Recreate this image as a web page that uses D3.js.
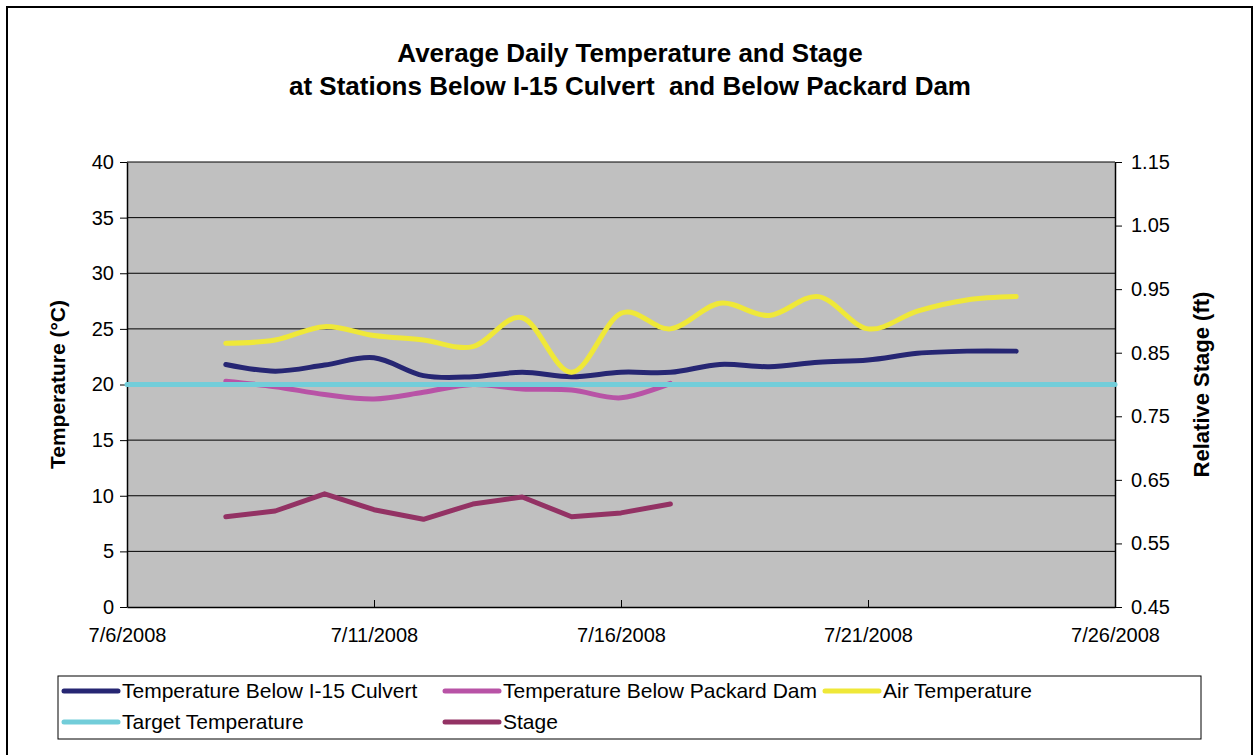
<!DOCTYPE html>
<html>
<head>
<meta charset="utf-8">
<script src="https://cdn.jsdelivr.net/npm/d3@7"></script>
<style>
  body { margin: 0; background: #fff; }
  svg text { font-family: "Liberation Sans", Arial, sans-serif; fill: #000; }
</style>
</head>
<body>
<svg id="chart" width="1254" height="755"></svg>
<script>
// ---- data ----
var dates = ['7/8/2008','7/9/2008','7/10/2008','7/11/2008','7/12/2008','7/13/2008','7/14/2008',
  '7/15/2008','7/16/2008','7/17/2008','7/18/2008','7/19/2008','7/20/2008','7/21/2008',
  '7/22/2008','7/23/2008','7/24/2008'];
var culvertTemp = [21.8, 21.2, 21.75, 22.4, 20.8, 20.7, 21.1, 20.7, 21.1, 21.1, 21.8, 21.6, 22.0, 22.2, 22.8, 23.0, 23.0];
var packardTemp = [20.3, 19.8, 19.1, 18.7, 19.3, 20.0, 19.6, 19.5, 18.8, 20.1];
var airTemp = [23.7, 24.0, 25.2, 24.4, 24.0, 23.4, 26.0, 21.1, 26.4, 25.0, 27.3, 26.2, 27.9, 25.0, 26.6, 27.6, 27.9];
var stage = [0.592, 0.601, 0.628, 0.603, 0.588, 0.612, 0.623, 0.592, 0.598, 0.612];
var targetDates = ['7/6/2008', '7/26/2008'];
var targetTemp = [20, 20];
var xTicks = ['7/6/2008','7/11/2008','7/16/2008','7/21/2008','7/26/2008'];
var leftTicks = [0, 5, 10, 15, 20, 25, 30, 35, 40];
var rightTicks = [0.45, 0.55, 0.65, 0.75, 0.85, 0.95, 1.05, 1.15];

var parse = d3.timeParse('%m/%d/%Y');
var fmt = function(d){ return (d.getMonth()+1) + '/' + d.getDate() + '/' + d.getFullYear(); };

var svg = d3.select('#chart');
var plot = {left: 127, right: 1115, top: 162, bottom: 607};

// outer border
svg.append('rect').attr('x', 7).attr('y', 7).attr('width', 1245).attr('height', 760)
  .attr('fill', '#fff').attr('stroke', '#000').attr('stroke-width', 2);

var x = d3.scaleTime().domain([parse('7/6/2008'), parse('7/26/2008')]).range([plot.left, plot.right]);
var y = d3.scaleLinear().domain([0, 40]).range([plot.bottom, plot.top]);
var y2 = d3.scaleLinear().domain([0.45, 1.15]).range([plot.bottom, plot.top]);

// plot background
svg.append('rect').attr('x', plot.left).attr('y', plot.top)
  .attr('width', plot.right - plot.left).attr('height', plot.bottom - plot.top)
  .attr('fill', '#c0c0c0');

// gridlines
svg.append('g').selectAll('line').data(leftTicks.slice(1)).enter().append('line')
  .attr('x1', plot.left).attr('x2', plot.right)
  .attr('y1', function(d){ return y(d); }).attr('y2', function(d){ return y(d); })
  .attr('stroke', '#000').attr('stroke-width', 1);

// axes
var gx = svg.append('g').attr('transform', 'translate(0,' + plot.bottom + ')')
  .call(d3.axisBottom(x).tickValues(xTicks.map(parse)).tickFormat(fmt).tickSize(7).tickSizeOuter(0).tickPadding(14));
var gy = svg.append('g').attr('transform', 'translate(' + plot.left + ',0)')
  .call(d3.axisLeft(y).tickValues(leftTicks).tickSize(7).tickSizeOuter(0).tickPadding(6));
var gy2 = svg.append('g').attr('transform', 'translate(' + plot.right + ',0)')
  .call(d3.axisRight(y2).tickValues(rightTicks).tickFormat(d3.format('.2f')).tickSize(7).tickSizeOuter(0).tickPadding(9));

[gx, gy, gy2].forEach(function(g){
  g.selectAll('text').style('font-size', '20px').attr('fill', '#000');
  g.selectAll('line').attr('stroke', '#000');
  g.select('.domain').attr('stroke', '#000').attr('stroke-width', 1.5);
});
gx.selectAll('.tick line').attr('transform', 'translate(0,-7)');

// series
var smooth = d3.line().curve(d3.curveCatmullRom.alpha(0))
  .x(function(d){ return x(d.date); }).y(function(d){ return y(d.v); });
var straight = d3.line()
  .x(function(d){ return x(d.date); }).y(function(d){ return y2(d.v); });

function pairs(ds, vs){ return vs.map(function(v, i){ return {date: parse(ds[i]), v: v}; }); }

var series = [
  {name: 'Temperature Below I-15 Culvert', color: '#262673', data: pairs(dates, culvertTemp), line: smooth},
  {name: 'Temperature Below Packard Dam', color: '#b853a6', data: pairs(dates, packardTemp), line: smooth},
  {name: 'Air Temperature', color: '#efe838', data: pairs(dates, airTemp), line: smooth},
  {name: 'Target Temperature', color: '#72cdd9', data: pairs(targetDates, targetTemp), line: smooth},
  {name: 'Stage', color: '#933264', data: pairs(dates, stage), line: straight}
];

series.forEach(function(s){
  svg.append('path').datum(s.data)
    .attr('d', s.line)
    .attr('fill', 'none')
    .attr('stroke', s.color)
    .attr('stroke-width', 5)
    .attr('stroke-linecap', 'round')
    .attr('stroke-linejoin', 'round');
});

// title
svg.append('text').attr('x', 630).attr('y', 62).attr('text-anchor', 'middle')
  .style('font-size', '26px').style('font-weight', 'bold')
  .text('Average Daily Temperature and Stage');
svg.append('text').attr('x', 630).attr('y', 95).attr('text-anchor', 'middle')
  .style('font-size', '26px').style('font-weight', 'bold').style('white-space', 'pre')
  .text('at Stations Below I-15 Culvert  and Below Packard Dam');

// axis titles
svg.append('text').attr('transform', 'translate(65,' + ((plot.top + plot.bottom) / 2) + ') rotate(-90)')
  .attr('text-anchor', 'middle').style('font-size', '21px').style('font-weight', 'bold')
  .text('Temperature (°C)');
svg.append('text').attr('transform', 'translate(1209,' + ((plot.top + plot.bottom) / 2) + ') rotate(-90)')
  .attr('text-anchor', 'middle').style('font-size', '22px').style('font-weight', 'bold')
  .text('Relative Stage (ft)');

// legend
var legend = svg.append('g');
legend.append('rect').attr('x', 58).attr('y', 676).attr('width', 1143).attr('height', 63)
  .attr('fill', '#fff').attr('stroke', '#000').attr('stroke-width', 1);
var legendPos = [[64, 691], [445, 691], [825, 691], [64, 722], [445, 722]];
series.forEach(function(s, i){
  var p = legendPos[i];
  legend.append('line').attr('x1', p[0]).attr('x2', p[0] + 54).attr('y1', p[1]).attr('y2', p[1])
    .attr('stroke', s.color).attr('stroke-width', 5).attr('stroke-linecap', 'round');
  legend.append('text').attr('x', p[0] + 58).attr('y', p[1] + 7)
    .style('font-size', '21px').text(s.name);
});
</script>
</body>
</html>
